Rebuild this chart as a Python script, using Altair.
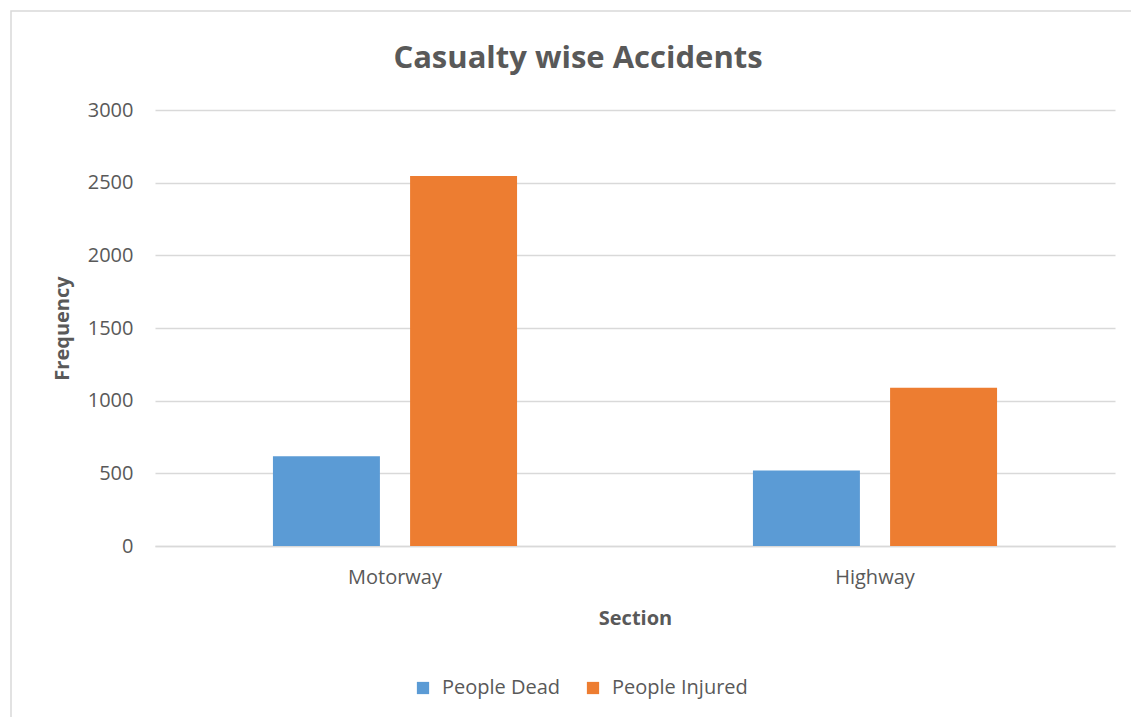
import altair as alt
import pandas as pd

# Casualty counts per road section
sections = ["Motorway", "Highway"]
people_dead = [617, 520]
people_injured = [2546, 1089]
series = ["People Dead", "People Injured"]
colors = ["#5B9BD5", "#ED7D31"]

rows = []
for i, sec in enumerate(sections):
    rows.append({"Section": sec, "Casualty": series[0], "Frequency": people_dead[i]})
    rows.append({"Section": sec, "Casualty": series[1], "Frequency": people_injured[i]})
df = pd.DataFrame(rows)

FONT = "Open Sans"
TEXT = "#595959"
GRID = "#D9D9D9"

bars = alt.Chart(df).mark_bar().encode(
    x=alt.X(
        "Section:N",
        sort=sections,
        scale=alt.Scale(paddingInner=0, paddingOuter=0),
        axis=alt.Axis(
            title="Section",
            labelAngle=0,
            labelFontSize=20,
            labelColor=TEXT,
            labelFont=FONT,
            labelPadding=21,
            ticks=False,
            domainColor=GRID,
            domainWidth=1.5,
            titleFont=FONT,
            titleFontSize=20,
            titleFontWeight="bold",
            titleColor=TEXT,
            titlePadding=21,
        ),
    ),
    xOffset=alt.XOffset(
        "Casualty:N",
        sort=series,
        scale=alt.Scale(paddingInner=0.22, paddingOuter=0.86),
    ),
    y=alt.Y(
        "Frequency:Q",
        scale=alt.Scale(domain=[0, 3000]),
        axis=alt.Axis(
            title="Frequency",
            values=[0, 500, 1000, 1500, 2000, 2500, 3000],
            format="d",
            labelFontSize=20,
            labelColor=TEXT,
            labelFont=FONT,
            labelPadding=22,
            ticks=False,
            domain=False,
            gridColor=GRID,
            gridWidth=1.5,
            titleFont=FONT,
            titleFontSize=20,
            titleFontWeight="bold",
            titleColor=TEXT,
            titlePadding=15,
        ),
    ),
    color=alt.Color(
        "Casualty:N",
        sort=series,
        scale=alt.Scale(domain=series, range=colors),
        legend=alt.Legend(
            title=None,
            orient="none",
            direction="horizontal",
            legendX=258,
            legendY=568,
            symbolType="square",
            symbolSize=150,
            symbolStrokeWidth=0,
            labelFont=FONT,
            labelFontSize=20,
            labelColor=TEXT,
            columnPadding=22,
            labelOffset=9,
        ),
    ),
)

# light outline around the whole chart area
frame = alt.Chart(pd.DataFrame({"k": [0]})).mark_rect(
    fill=None, stroke="#D9D9D9", strokeWidth=1.5
).encode(
    x=alt.value(-144), x2=alt.value(1000), y=alt.value(-99), y2=alt.value(640)
)

chart = alt.layer(frame, bars).properties(
    width=960,
    height=436,
    background="white",
    title=alt.TitleParams(
        "Casualty wise Accidents",
        font=FONT,
        fontSize=31,
        fontWeight="bold",
        color=TEXT,
        anchor="middle",
        dx=-57,
        offset=-65,
    ),
    padding={"left": 155, "top": 110, "right": 16, "bottom": 171},
    autosize=alt.AutoSizeParams(type="none"),
).configure_view(strokeWidth=0)

chart.save("out.html", embed_options={"renderer": "svg", "actions": False})
